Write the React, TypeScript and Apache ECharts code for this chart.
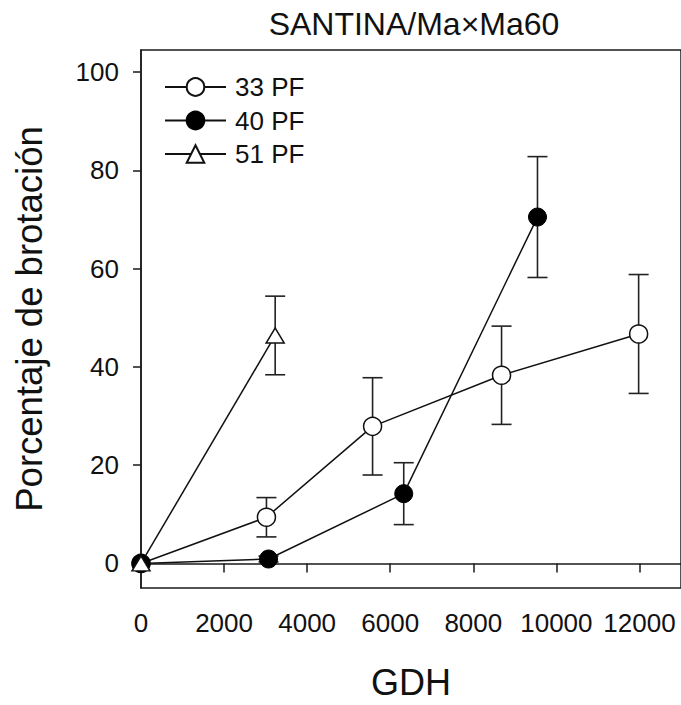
import React, { useEffect, useRef } from "react";
import * as echarts from "echarts";

const titleText = "SANTINA/Ma×Ma60";
const xName = "GDH";
const yName = "Porcentaje de brotación";
const seriesNames = ["33 PF", "40 PF", "51 PF"];

const x33 = [0, 3020, 5575, 8680, 11980];
const y33 = [0, 9.4, 27.9, 38.3, 46.7];
const e33 = [0, 4.0, 9.9, 10.0, 12.1];

const x40 = [0, 3070, 6325, 9545];
const y40 = [0, 0.9, 14.2, 70.5];
const e40 = [0, 0.6, 6.3, 12.3];

const x51 = [0, 3230];
const y51 = [0, 46.4];
const e51 = [0, 8.0];

const xTicks = [0, 2000, 4000, 6000, 8000, 10000, 12000];
const yTicks = [0, 20, 40, 60, 80, 100];

const FONT = "'Liberation Sans', Arial, sans-serif";
const INK = "#111";

function pts(xs: number[], ys: number[]) {
  return xs.map((x, i) => [x, ys[i]]);
}
function errPts(xs: number[], ys: number[], es: number[]) {
  return xs.map((x, i) => [x, ys[i], es[i]]);
}

const errRender = (params: any, api: any) => {
  const x = api.value(0);
  const y = api.value(1);
  const e = api.value(2);
  if (!e) return null;
  const top = api.coord([x, y + e]);
  const bot = api.coord([x, y - e]);
  const hw = 10;
  const style = { stroke: "#222", lineWidth: 1.6 };
  return {
    type: "group",
    children: [
      { type: "line", shape: { x1: top[0], y1: top[1], x2: bot[0], y2: bot[1] }, style },
      { type: "line", shape: { x1: top[0] - hw, y1: top[1], x2: top[0] + hw, y2: top[1] }, style },
      { type: "line", shape: { x1: bot[0] - hw, y1: bot[1], x2: bot[0] + hw, y2: bot[1] }, style },
    ],
  };
};

export default function App() {
  const ref = useRef<HTMLDivElement>(null);
  useEffect(() => {
    if (!ref.current) return;
    const chart = echarts.init(ref.current, null, { renderer: "svg" });
    const lineCommon = {
      type: "line",
      symbolSize: 18,
      clip: false,
      z: 3,
      lineStyle: { color: INK, width: 1.5 },
    };
    chart.setOption({
      animation: false,
      backgroundColor: "#fff",
      textStyle: { fontFamily: FONT },
      graphic: [
        {
          type: "text",
          x: 414,
          y: 24,
          style: {
            text: titleText,
            fontSize: 32,
            fontFamily: FONT,
            fill: INK,
            align: "center",
            verticalAlign: "middle",
          },
        },
      ],
      legend: {
        data: seriesNames,
        orient: "vertical",
        left: 159,
        top: 69,
        itemWidth: 61,
        itemHeight: 22,
        itemGap: 7.5,
        textStyle: { fontSize: 26, color: INK, fontFamily: FONT, padding: [0, 0, 0, 4] },
      },
      grid: {
        left: 141,
        top: 50,
        width: 544.5,
        height: 544,
        show: true,
        borderColor: "#1a1a1a",
        borderWidth: 1.5,
        containLabel: false,
      },
      xAxis: {
        type: "value",
        min: 0,
        max: 13000,
        name: xName,
        nameLocation: "middle",
        nameGap: 76,
        nameTextStyle: { fontSize: 36, color: INK, fontFamily: FONT },
        axisLine: { show: true, lineStyle: { color: "#1a1a1a", width: 1.5 } },
        axisTick: { show: true, length: 9, customValues: xTicks, lineStyle: { color: "#1a1a1a", width: 1.5 } },
        axisLabel: {
          customValues: xTicks,
          fontSize: 26,
          color: INK,
          margin: 22,
          fontFamily: FONT,
          formatter: (v: number) => String(v),
        },
        splitLine: { show: false },
      },
      yAxis: {
        type: "value",
        min: -5,
        max: 104.5,
        name: yName,
        nameLocation: "middle",
        nameRotate: 90,
        nameGap: 93,
        nameTextStyle: { fontSize: 36.5, color: INK, fontFamily: FONT },
        axisLine: { show: true, lineStyle: { color: "#1a1a1a", width: 1.5 } },
        axisTick: { show: true, length: 8, customValues: yTicks, lineStyle: { color: "#1a1a1a", width: 1.5 } },
        axisLabel: {
          customValues: yTicks,
          fontSize: 26,
          color: INK,
          margin: 22,
          fontFamily: FONT,
          formatter: (v: number) => String(v),
        },
        splitLine: { show: false },
      },
      series: [
        {
          type: "custom",
          name: "err33",
          renderItem: errRender,
          data: errPts(x33, y33, e33),
          encode: { x: 0, y: 1 },
          z: 1,
          clip: false,
        },
        {
          type: "custom",
          name: "err40",
          renderItem: errRender,
          data: errPts(x40, y40, e40),
          encode: { x: 0, y: 1 },
          z: 1,
          clip: false,
        },
        {
          type: "custom",
          name: "err51",
          renderItem: errRender,
          data: errPts(x51, y51, e51),
          encode: { x: 0, y: 1 },
          z: 1,
          clip: false,
        },
        {
          ...lineCommon,
          name: seriesNames[0],
          symbol: "circle",
          data: pts(x33, y33),
          itemStyle: { color: "#fff", borderColor: INK, borderWidth: 1.5 },
        },
        {
          ...lineCommon,
          name: seriesNames[1],
          symbol: "circle",
          data: pts(x40, y40),
          itemStyle: { color: "#000", borderColor: "#000", borderWidth: 1 },
        },
        {
          ...lineCommon,
          name: seriesNames[2],
          symbol: "triangle",
          symbolSize: [18, 15],
          data: pts(x51, y51),
          itemStyle: { color: "#fff", borderColor: INK, borderWidth: 1.5 },
        },
      ],
    });
    return () => chart.dispose();
  }, []);
  return (
    <div
      ref={ref}
      style={{ position: "fixed", left: 0, top: 0, width: 681, height: 705, background: "#fff" }}
    />
  );
}
